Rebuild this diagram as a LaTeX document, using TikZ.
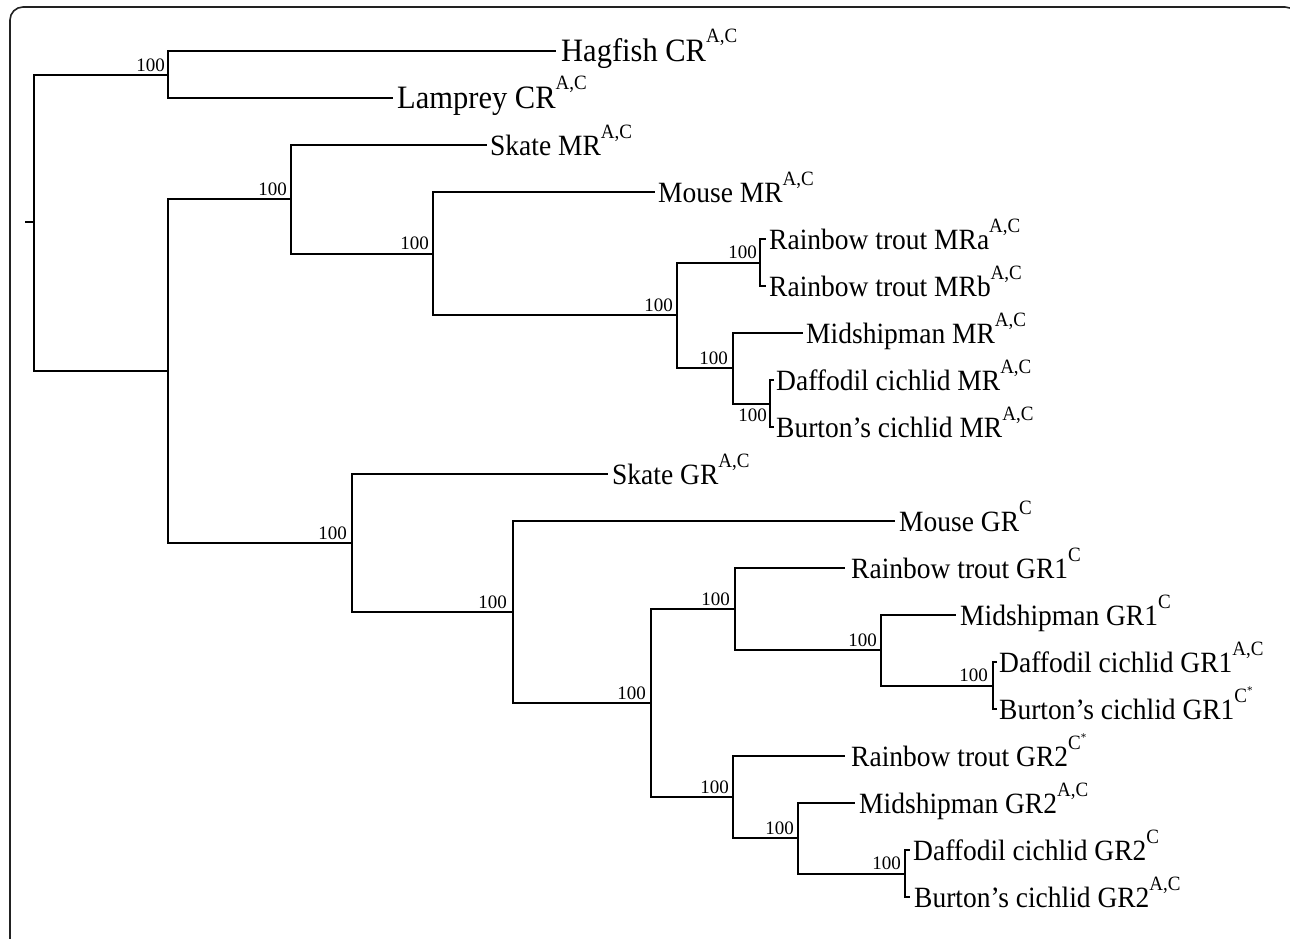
\documentclass[tikz,border=0pt]{standalone}
\usepackage{fontspec}
\setmainfont{Liberation Serif}
\usepackage{graphicx}
\newcommand\supx[1]{\raisebox{0.58em}{\fontsize{19}{19}\selectfont #1}}
\newcommand\cst{C\raisebox{0.4em}{\fontsize{11}{11}\selectfont *}}
\newcommand\tall[1]{\scalebox{1}[1.07]{#1}}
\definecolor{framec}{HTML}{222222}
\begin{document}
\begin{tikzpicture}[x=1pt,y=-1pt,
  br/.style={line width=2pt},
  lab/.style={anchor=base west, inner sep=0pt, font=\fontsize{27.5}{30}\selectfont},
  biglab/.style={lab, font=\fontsize{30.5}{33}\selectfont},
  bs/.style={anchor=base east, inner sep=0pt, font=\fontsize{19}{20}\selectfont}]
\useasboundingbox (0,0) rectangle (1290,938);
\begin{scope}
\clip (0,0) rectangle (1290,938);
\draw[framec, line width=1.6pt, rounded corners=13pt] (10,960) -- (10,7) -- (1298,7) -- (1298,960);
\end{scope}
% internal nodes
\coordinate (tick) at (25,222);
\coordinate (root) at (34,222);
\coordinate (nCR) at (168,74.5);
\coordinate (nA) at (168,371);
\coordinate (nMR) at (291,199);
\coordinate (nMR2) at (433,253.5);
\coordinate (nMR3) at (677,315);
\coordinate (nMRt) at (760,262.5);
\coordinate (nMR4) at (733,368);
\coordinate (nMRc) at (770,403.5);
\coordinate (nGR) at (352,543);
\coordinate (nGR2) at (513,612);
\coordinate (nG3) at (651,703);
\coordinate (nG1) at (735,609);
\coordinate (nG1b) at (881,650);
\coordinate (nG1c) at (993,685.5);
\coordinate (nG2) at (733,797);
\coordinate (nG2b) at (798,838);
\coordinate (nG2c) at (905,873.5);
% leaves
\coordinate (lHag) at (556,51);
\coordinate (lLam) at (393,98);
\coordinate (lSkM) at (487,145);
\coordinate (lMoM) at (655,192);
\coordinate (lTMa) at (766,239);
\coordinate (lTMb) at (766,286);
\coordinate (lMiM) at (803,333);
\coordinate (lDaM) at (774,380);
\coordinate (lBuM) at (774,427);
\coordinate (lSkG) at (608,474);
\coordinate (lMoG) at (895,521);
\coordinate (lT1) at (845,568);
\coordinate (lMi1) at (956,615);
\coordinate (lDa1) at (997,662);
\coordinate (lBu1) at (997,709);
\coordinate (lT2) at (845,756);
\coordinate (lMi2) at (855,803);
\coordinate (lDa2) at (910,850);
\coordinate (lBu2) at (910,897);
% branches
\draw[br] (tick) -- (root);
\draw[br] (root) |- (nCR);  \draw[br] (root) |- (nA);
\draw[br] (nCR) |- (lHag);  \draw[br] (nCR) |- (lLam);
\draw[br] (nA) |- (nMR);    \draw[br] (nA) |- (nGR);
\draw[br] (nMR) |- (lSkM);  \draw[br] (nMR) |- (nMR2);
\draw[br] (nMR2) |- (lMoM); \draw[br] (nMR2) |- (nMR3);
\draw[br] (nMR3) |- (nMRt); \draw[br] (nMR3) |- (nMR4);
\draw[br] (nMRt) |- (lTMa); \draw[br] (nMRt) |- (lTMb);
\draw[br] (nMR4) |- (lMiM); \draw[br] (nMR4) |- (nMRc);
\draw[br] (nMRc) |- (lDaM); \draw[br] (nMRc) |- (lBuM);
\draw[br] (nGR) |- (lSkG);  \draw[br] (nGR) |- (nGR2);
\draw[br] (nGR2) |- (lMoG); \draw[br] (nGR2) |- (nG3);
\draw[br] (nG3) |- (nG1);   \draw[br] (nG3) |- (nG2);
\draw[br] (nG1) |- (lT1);   \draw[br] (nG1) |- (nG1b);
\draw[br] (nG1b) |- (lMi1); \draw[br] (nG1b) |- (nG1c);
\draw[br] (nG1c) |- (lDa1); \draw[br] (nG1c) |- (lBu1);
\draw[br] (nG2) |- (lT2);   \draw[br] (nG2) |- (nG2b);
\draw[br] (nG2b) |- (lMi2); \draw[br] (nG2b) |- (nG2c);
\draw[br] (nG2c) |- (lDa2); \draw[br] (nG2c) |- (lBu2);
% leaf labels
\node[biglab] (tHag) at (561,61.5) {\tall{Hagfish CR\supx{A,C}}};
\node[biglab] (tLam) at (397,108.5) {\tall{Lamprey CR\supx{A,C}}};
\node[lab] (tSkM) at (490,155.5) {\tall{Skate MR\supx{A,C}}};
\node[lab] (tMoM) at (658,202.5) {\tall{Mouse MR\supx{A,C}}};
\node[lab] (tTMa) at (769,249.5) {\tall{Rainbow trout MRa\supx{A,C}}};
\node[lab] (tTMb) at (769,296.5) {\tall{Rainbow trout MRb\supx{A,C}}};
\node[lab] (tMiM) at (806,343.5) {\tall{Midshipman MR\supx{A,C}}};
\node[lab] (tDaM) at (776,390.5) {\tall{Daffodil cichlid MR\supx{A,C}}};
\node[lab] (tBuM) at (776,437.5) {\tall{Burton’s cichlid MR\supx{A,C}}};
\node[lab] (tSkG) at (612,484.5) {\tall{Skate GR\supx{A,C}}};
\node[lab] (tMoG) at (899,531.5) {\tall{Mouse GR\supx{C}}};
\node[lab] (tT1) at (851,578.5) {\tall{Rainbow trout GR1\supx{C}}};
\node[lab] (tMi1) at (960,625.5) {\tall{Midshipman GR1\supx{C}}};
\node[lab] (tDa1) at (999,672.5) {\tall{Daffodil cichlid GR1\supx{A,C}}};
\node[lab] (tBu1) at (999,719.5) {\tall{Burton’s cichlid GR1\supx{\cst}}};
\node[lab] (tT2) at (851,766.5) {\tall{Rainbow trout GR2\supx{\cst}}};
\node[lab] (tMi2) at (859,813.5) {\tall{Midshipman GR2\supx{A,C}}};
\node[lab] (tDa2) at (913,860.5) {\tall{Daffodil cichlid GR2\supx{C}}};
\node[lab] (tBu2) at (914,907.5) {\tall{Burton’s cichlid GR2\supx{A,C}}};
% bootstrap values
\node[bs] (bCR) at (165,71) {100};
\node[bs] (bMR) at (287,195) {100};
\node[bs] (bMR2) at (429,249.5) {100};
\node[bs] (bMR3) at (673,311) {100};
\node[bs] (bMRt) at (757,258.5) {100};
\node[bs] (bMR4) at (728,364) {100};
\node[bs] (bMRc) at (767,421) {100};
\node[bs] (bGR) at (347,539) {100};
\node[bs] (bGR2) at (507,608) {100};
\node[bs] (bG3) at (646,699) {100};
\node[bs] (bG1) at (730,605) {100};
\node[bs] (bG1b) at (877,646) {100};
\node[bs] (bG1c) at (988,681.5) {100};
\node[bs] (bG2) at (729,793) {100};
\node[bs] (bG2b) at (794,834) {100};
\node[bs] (bG2c) at (901,869.5) {100};
\end{tikzpicture}
\end{document}
